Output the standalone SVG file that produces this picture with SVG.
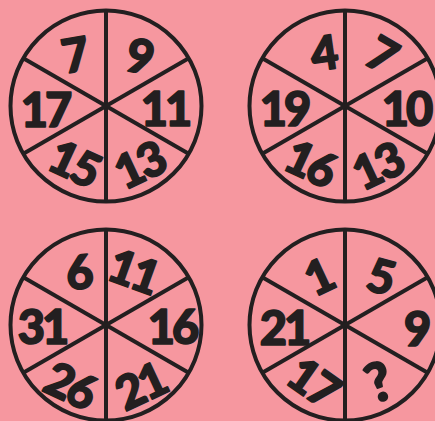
<svg xmlns="http://www.w3.org/2000/svg" width="435" height="421" viewBox="0 0 435 421">
<style>
.bg{fill:#F6979F}
.rim{fill:none;stroke:#231F20;stroke-width:4}
.spoke{stroke:#231F20;stroke-width:4;stroke-linecap:butt}
.n{font-family:Lato,"Liberation Sans",sans-serif;font-weight:900;font-size:47px;fill:#231F20;stroke:#231F20;stroke-width:1.6px;stroke-linejoin:round;text-anchor:middle;letter-spacing:-3px}
.q{font-size:54px;letter-spacing:0}
</style>
<defs>
<g id="wheel">
<circle class="rim" cx="0" cy="0" r="95.5"/>
<line class="spoke" x1="0" y1="-95.5" x2="0" y2="95.5"/>
<line class="spoke" x1="-82.7" y1="-47.75" x2="82.7" y2="47.75"/>
<line class="spoke" x1="-82.7" y1="47.75" x2="82.7" y2="-47.75"/>
</g>
</defs>
<rect class="bg" x="0" y="0" width="435" height="421"/>
<g id="wheel1">
<use href="#wheel" x="106" y="106"/>
<g transform="translate(74,55) rotate(-10)"><text class="n" x="0" y="17">7</text></g>
<g transform="translate(139,56) rotate(12)"><text class="n" x="0" y="17">9</text></g>
<g transform="translate(165,109)"><text class="n" x="0" y="17">11</text></g>
<g transform="translate(139,165) rotate(-25)"><text class="n" x="0" y="17">13</text></g>
<g transform="translate(74,163) rotate(25)"><text class="n" x="0" y="17">15</text></g>
<g transform="translate(45,110)"><text class="n" x="0" y="17">17</text></g>
</g>
<g id="wheel2">
<use href="#wheel" x="345" y="106"/>
<g transform="translate(323,53) rotate(-8)"><text class="n" x="0" y="17">4</text></g>
<g transform="translate(381,54) rotate(30)"><text class="n" x="0" y="17">7</text></g>
<g transform="translate(406,109)"><text class="n" x="0" y="17">10</text></g>
<g transform="translate(377,166) rotate(-25)"><text class="n" x="0" y="17">13</text></g>
<g transform="translate(310,163) rotate(25)"><text class="n" x="0" y="17">16</text></g>
<g transform="translate(284,109)"><text class="n" x="0" y="17">19</text></g>
</g>
<g id="wheel3">
<use href="#wheel" x="106" y="325"/>
<g transform="translate(78,272) rotate(-5)"><text class="n" x="0" y="17">6</text></g>
<g transform="translate(133,271) rotate(20)"><text class="n" x="0" y="17">11</text></g>
<g transform="translate(172,327)"><text class="n" x="0" y="17">16</text></g>
<g transform="translate(140,386) rotate(-25)"><text class="n" x="0" y="17">21</text></g>
<g transform="translate(70,385) rotate(25)"><text class="n" x="0" y="17">26</text></g>
<g transform="translate(42,327)"><text class="n" x="0" y="17">31</text></g>
</g>
<g id="wheel4">
<use href="#wheel" x="345" y="325"/>
<g transform="translate(318,277) rotate(-25)"><text class="n" x="0" y="17">1</text></g>
<g transform="translate(380,276) rotate(15)"><text class="n" x="0" y="17">5</text></g>
<g transform="translate(416,329)"><text class="n" x="0" y="17">9</text></g>
<g transform="translate(379,382) rotate(-20)"><text class="n q" x="0" y="19">?</text></g>
<g transform="translate(313,382) rotate(35)"><text class="n" x="0" y="17">17</text></g>
<g transform="translate(284,328)"><text class="n" x="0" y="17">21</text></g>
</g>
</svg>
